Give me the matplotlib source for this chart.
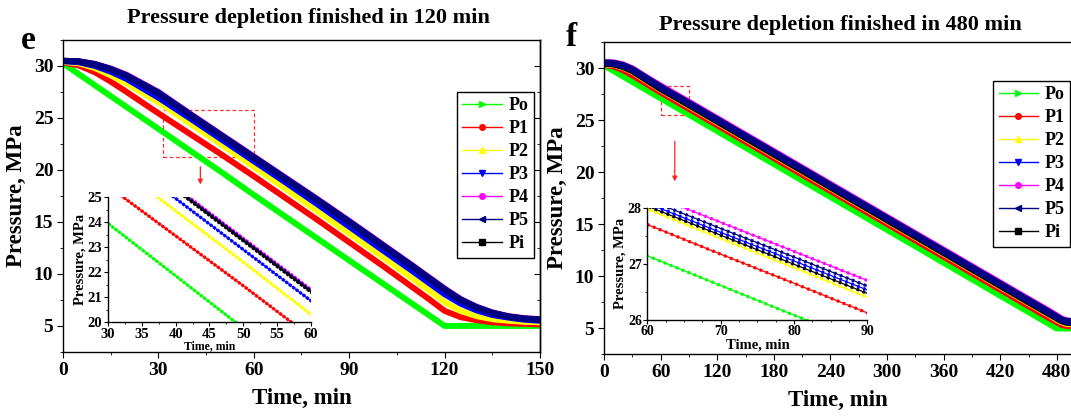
import matplotlib
matplotlib.use('Agg')
import matplotlib.pyplot as plt
from matplotlib.lines import Line2D
from matplotlib.patches import Rectangle
from matplotlib.ticker import MultipleLocator

plt.rcParams['font.family'] = ['Liberation Serif', 'DejaVu Serif']
plt.rcParams['font.weight'] = 'bold'
plt.rcParams['axes.labelweight'] = 'bold'
plt.rcParams['axes.linewidth'] = 1.0

names = ['Po', 'P1', 'P2', 'P3', 'P4', 'P5', 'Pi']
colors = ['#00ff00', '#ff0000', '#ffff00', '#0000ff', '#ff00ff', '#000080', '#000000']
markers = ['>', 'o', '^', 'v', 'o', '<', 's']

# ---- case e: depletion over 120 min ----
t_e = [0, 5, 10, 15, 20, 30, 40, 50, 60, 70, 80, 90, 100, 110, 115, 120,
       125, 130, 135, 140, 145, 150]
po_e = [30.25, 29.2, 28.15, 27.1, 26.05, 23.95, 21.85, 19.75, 17.6, 15.5, 13.4,
        11.3, 9.2, 7.1, 6.05, 5.0, 5.0, 5.0, 5.0, 5.0, 5.0, 5.0]
p1_e = [30.35, 30.05, 29.4, 28.5, 27.5, 25.45, 23.45, 21.45, 19.4, 17.3, 15.2,
        13.05, 10.9, 8.7, 7.6, 6.45, 5.85, 5.55, 5.35, 5.25, 5.2, 5.15]
p2_e = [30.4, 30.25, 29.8, 29.1, 28.3, 26.5, 24.45, 22.4, 20.3, 18.2, 16.05,
        13.9, 11.75, 9.55, 8.45, 7.3, 6.45, 5.95, 5.65, 5.5, 5.4, 5.35]
p3_e = [30.45, 30.35, 30.0, 29.45, 28.75, 26.95, 24.95, 22.9, 20.85, 18.8, 16.7,
        14.55, 12.4, 10.25, 9.15, 8.05, 7.15, 6.5, 6.05, 5.8, 5.6, 5.5]
p4_e = [30.5, 30.45, 30.2, 29.75, 29.15, 27.5, 25.4, 23.35, 21.3, 19.25, 17.2,
        15.1, 12.95, 10.8, 9.7, 8.6, 7.6, 6.85, 6.3, 5.95, 5.75, 5.65]
p5_e = [30.5, 30.44, 30.18, 29.72, 29.1, 27.45, 25.35, 23.3, 21.25, 19.2, 17.15,
        15.05, 12.9, 10.75, 9.65, 8.55, 7.55, 6.82, 6.28, 5.92, 5.72, 5.62]
pi_e = [30.5, 30.43, 30.15, 29.7, 29.05, 27.4, 25.3, 23.25, 21.2, 19.15, 17.1,
        15.0, 12.85, 10.7, 9.6, 8.5, 7.5, 6.8, 6.25, 5.9, 5.7, 5.6]

# ---- case f: depletion over 480 min ----
t_f = [0, 10, 20, 30, 40, 50, 60, 70, 80, 90, 150, 210, 270, 330, 390, 450,
       470, 480, 485, 490, 495]
po_f = [30.3, 29.77, 29.25, 28.72, 28.19, 27.66, 27.14, 26.61, 26.08, 25.56,
        22.4, 19.23, 16.07, 12.91, 9.74, 6.58, 5.53, 5.0, 5.0, 5.0, 5.0]
p1_f = [30.35, 30.2, 29.85, 29.35, 28.8, 28.25, 27.7, 27.17, 26.65, 26.12,
        22.96, 19.8, 16.64, 13.48, 10.32, 7.15, 6.1, 5.6, 5.35, 5.25, 5.2]
p2_f = [30.4, 30.35, 30.1, 29.7, 29.1, 28.53, 27.98, 27.45, 26.93, 26.4,
        23.24, 20.08, 16.92, 13.76, 10.6, 7.44, 6.4, 5.85, 5.6, 5.45, 5.4]
p3_f = [30.45, 30.42, 30.2, 29.8, 29.22, 28.65, 28.08, 27.56, 27.05, 26.53,
        23.37, 20.21, 17.05, 13.89, 10.73, 7.57, 6.53, 6.0, 5.75, 5.6, 5.55]
p4_f = [30.5, 30.5, 30.3, 29.92, 29.36, 28.8, 28.26, 27.74, 27.22, 26.7,
        23.54, 20.38, 17.22, 14.06, 10.9, 7.74, 6.7, 6.15, 5.85, 5.7, 5.65]
p5_f = [30.5, 30.45, 30.25, 29.85, 29.28, 28.72, 28.15, 27.63, 27.12, 26.6,
        23.44, 20.28, 17.12, 13.96, 10.8, 7.64, 6.6, 6.05, 5.8, 5.65, 5.6]
pi_f = [30.45, 30.4, 30.15, 29.75, 29.17, 28.6, 28.03, 27.51, 26.99, 26.47,
        23.31, 20.15, 16.99, 13.83, 10.67, 7.51, 6.47, 5.95, 5.7, 5.55, 5.5]

series_e = dict(zip(names, [po_e, p1_e, p2_e, p3_e, p4_e, p5_e, pi_e]))
series_f = dict(zip(names, [po_f, p1_f, p2_f, p3_f, p4_f, p5_f, pi_f]))
style = {n: (c, m) for n, c, m in zip(names, colors, markers)}


def main_curves(ax, t, series, order, lw):
    for n in order:
        ax.plot(t, series[n], color=style[n][0], lw=lw,
                solid_capstyle='butt', solid_joinstyle='round')


def zoom_curves(ax, t, series, order, dash):
    for n in order:
        c = style[n][0]
        ax.plot(t, series[n], color=c, lw=0.9)
        ax.plot(t, series[n], color=c, lw=2.3, ls=(0, dash))


def style_main(ax, xmaj, xmin):
    ax.set_ylim(2.5, 32.5)
    ax.xaxis.set_major_locator(MultipleLocator(xmaj))
    ax.xaxis.set_minor_locator(MultipleLocator(xmin))
    ax.yaxis.set_major_locator(MultipleLocator(5))
    ax.yaxis.set_minor_locator(MultipleLocator(2.5))
    ax.tick_params(which='both', direction='out', labelsize=14, pad=3)
    ax.tick_params(which='major', length=4)
    ax.tick_params(which='minor', length=2.5)
    ax.set_xlabel('Time, min', fontsize=16.5, labelpad=7)
    ax.set_ylabel('Pressure, MPa', fontsize=16.5, labelpad=5)


def style_inset(ax, xlim, ylim, xmaj, xmin, ymaj, ymin, tsize, xlsize):
    ax.set_facecolor('none')
    ax.set_xlim(*xlim)
    ax.set_ylim(*ylim)
    for s in ('top', 'right'):
        ax.spines[s].set_visible(False)
    ax.xaxis.set_major_locator(MultipleLocator(xmaj))
    ax.xaxis.set_minor_locator(MultipleLocator(xmin))
    ax.yaxis.set_major_locator(MultipleLocator(ymaj))
    ax.yaxis.set_minor_locator(MultipleLocator(ymin))
    ax.tick_params(which='both', direction='out', labelsize=tsize, pad=1)
    ax.tick_params(which='major', length=3)
    ax.tick_params(which='minor', length=1.5)
    ax.set_xlabel('Time, min', fontsize=xlsize, labelpad=0)
    ax.set_ylabel('Pressure, MPa', fontsize=10.5, labelpad=1)


def add_legend(ax, anchor):
    handles = [Line2D([], [], color=c, lw=1.0, marker=m, ms=4)
               for c, m in zip(colors, markers)]
    leg = ax.legend(handles, names, loc='upper right', bbox_to_anchor=anchor,
                    fontsize=13, frameon=True, fancybox=False, edgecolor='black',
                    framealpha=1, handlelength=2.2, labelspacing=0.33,
                    borderpad=0.3, handletextpad=0.35, borderaxespad=0)
    leg.get_frame().set_linewidth(1.0)


fig = plt.figure(figsize=(10.71, 4.16), dpi=100)

# panel e
ax1 = fig.add_axes([0.0588, 0.154, 0.4454, 0.750])
main_curves(ax1, t_e, series_e, ['Po', 'P1', 'P2', 'P3', 'P4', 'Pi', 'P5'], 4.3)
ax1.set_xlim(0, 150)
style_main(ax1, 30, 15)
rsec = ax1.secondary_yaxis('right')
rsec.yaxis.set_major_locator(MultipleLocator(5))
rsec.yaxis.set_minor_locator(MultipleLocator(2.5))
rsec.tick_params(which='both', direction='in', labelright=False)
rsec.tick_params(which='major', length=4)
rsec.tick_params(which='minor', length=2.5)
ax1.add_patch(Rectangle((31.4, 21.2), 28.8, 4.6, fill=False, ec='#ff3030',
                        lw=0.9, ls=(0, (3, 2))))
ax1.annotate('', xy=(43.2, 18.6), xytext=(43.2, 20.3),
             arrowprops=dict(arrowstyle='-|>', color='#ff2020', lw=0.9,
                             mutation_scale=7, shrinkA=0, shrinkB=0))
add_legend(ax1, (0.987, 0.833))

ins1 = fig.add_axes([0.1008, 0.226, 0.1895, 0.300])
zoom_curves(ins1, t_e, series_e, ['Po', 'P1', 'P2', 'P3', 'P4', 'P5', 'Pi'], (0.9, 0.45))
style_inset(ins1, (30, 60), (20, 25), 5, 2.5, 1, 0.5, 10.5, 8.5)

fig.text(0.288, 0.956, 'Pressure depletion finished in 120 min', fontsize=16,
         ha='center', va='center')
fig.text(0.026, 0.903, 'e', fontsize=24, ha='center', va='center')

# panel f
ax2 = fig.add_axes([0.564, 0.149, 0.436, 0.750])
main_curves(ax2, t_f, series_f, ['Po', 'P1', 'P2', 'P3', 'P4', 'Pi', 'P5'], 5.0)
ax2.set_xlim(0, 495)
style_main(ax2, 60, 30)
ax2.spines['right'].set_visible(False)
ax2.add_patch(Rectangle((60, 25.5), 30, 2.8, fill=False, ec='#ff3030',
                        lw=0.9, ls=(0, (3, 2))))
ax2.annotate('', xy=(75, 19.1), xytext=(75, 22.95),
             arrowprops=dict(arrowstyle='-|>', color='#ff2020', lw=0.9,
                             mutation_scale=7, shrinkA=0, shrinkB=0))
add_legend(ax2, (0.998, 0.875))

ins2 = fig.add_axes([0.6045, 0.2315, 0.2054, 0.269])
zoom_curves(ins2, t_f, series_f, ['Po', 'P1', 'P2', 'Pi', 'P3', 'P5', 'P4'], (0.8, 1.2))
style_inset(ins2, (60, 90), (26, 28), 10, 2.5, 1, 0.5, 10, 10.5)

fig.text(0.785, 0.939, 'Pressure depletion finished in 480 min', fontsize=16,
         ha='center', va='center')
fig.text(0.533, 0.911, 'f', fontsize=24, ha='center', va='center')

fig.savefig('out.png', dpi=100)
